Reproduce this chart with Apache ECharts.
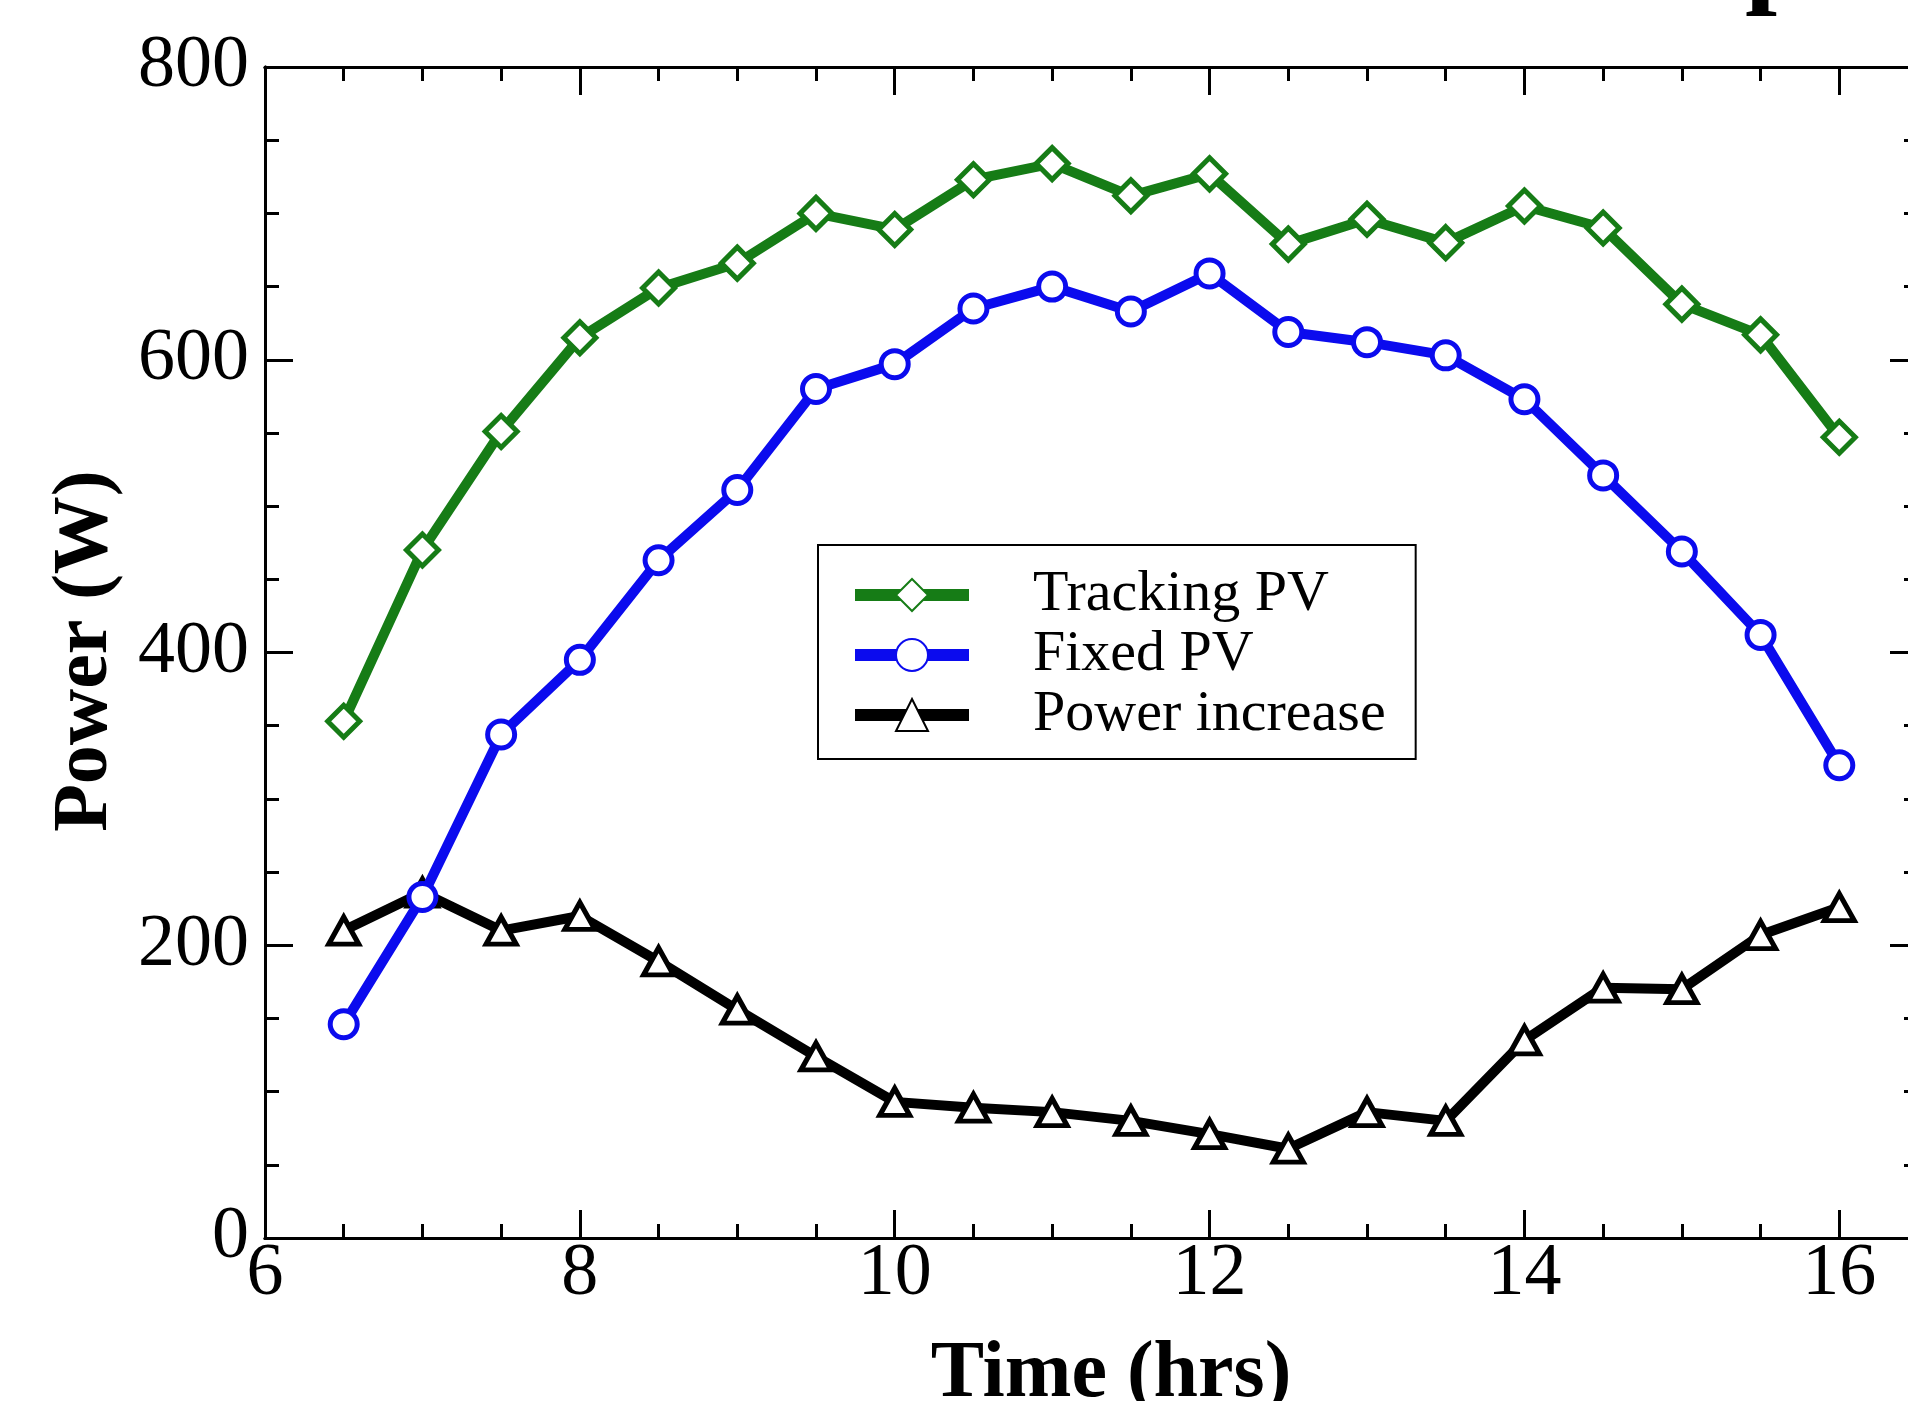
<!DOCTYPE html>
<html>
<head>
<meta charset="utf-8">
<title>Power</title>
<script src="https://cdn.jsdelivr.net/npm/echarts@6/dist/echarts.min.js"></script>
<style>
html, body { margin: 0; padding: 0; background: #fff; }
#main { width: 1908px; height: 1401px; }
</style>
</head>
<body>
<div id="main"></div>
<script>
// values
var hours = [6.5, 7, 7.5, 8, 8.5, 9, 9.5, 10, 10.5, 11, 11.5, 12, 12.5, 13, 13.5, 14, 14.5, 15, 15.5, 16];
var trackingPV = [353, 470, 551, 615, 649, 666, 700, 689, 723, 734, 712, 727, 679, 696, 680, 705, 690, 638, 617, 547];
var fixedPV = [146, 233, 344, 395, 463, 511, 580, 597, 635, 650, 633, 659, 619, 612, 603, 573, 521, 469, 412, 323];
var powerIncrease = [210, 236, 210, 220, 189, 156, 124, 93, 89, 86, 80, 71, 61, 86, 80, 135, 171, 170, 207, 226];
var seriesNames = ['Tracking PV', 'Fixed PV', 'Power increase'];
var xTickLabels = ['6', '8', '10', '12', '14', '16'];
var yTickLabels = ['0', '200', '400', '600', '800'];

var serif = 'Liberation Serif';
var green = '#167c16', blue = '#0b0bee', black = '#000';

function pairs(vals) {
    return hours.map(function (h, i) { return [h, vals[i]]; });
}

function xAx(pos, interval, len, labels) {
    return {
        type: 'value', position: pos, min: 6, max: 16.5, interval: interval,
        axisLine: { show: true, onZero: false, lineStyle: { color: '#000', width: 3 } },
        axisTick: { show: true, inside: true, length: len, lineStyle: { color: '#000', width: 3 } },
        axisLabel: {
            show: labels, margin: 0, fontFamily: serif, fontSize: 74, color: '#000',
            formatter: function (v) { return xTickLabels.indexOf(String(v)) >= 0 ? String(v) : ''; }
        },
        splitLine: { show: false }
    };
}
function yAx(pos, interval, len, labels) {
    return {
        type: 'value', position: pos, min: 0, max: 800, interval: interval,
        axisLine: { show: true, onZero: false, lineStyle: { color: '#000', width: 3 } },
        axisTick: { show: true, inside: true, length: len, lineStyle: { color: '#000', width: 3 } },
        axisLabel: {
            show: labels, margin: 16, fontFamily: serif, fontSize: 74, color: '#000',
            formatter: function (v) { return yTickLabels.indexOf(String(v)) >= 0 ? String(v) : ''; }
        },
        splitLine: { show: false }
    };
}

function line(name, vals, color, symbol, size, z) {
    return {
        name: name, type: 'line', data: pairs(vals), z: z,
        symbol: symbol, symbolSize: size, showAllSymbol: true,
        lineStyle: { color: color, width: 10 },
        itemStyle: { color: '#fff', borderColor: color, borderWidth: 5 },
        emphasis: { disabled: true }
    };
}

var myChart = echarts.init(document.getElementById('main'));
var option = {
    animation: false,
    backgroundColor: '#fff',
    grid: { left: 265, top: 67, right: -10, bottom: 163, containLabel: false, outerBoundsMode: 'none' },
    xAxis: [xAx('bottom', 2, 28, true), xAx('bottom', 0.5, 14, false), xAx('top', 2, 28, false), xAx('top', 0.5, 14, false)],
    yAxis: [yAx('left', 200, 28, true), yAx('left', 50, 14, false), yAx('right', 200, 28, false), yAx('right', 50, 14, false)],
    legend: {
        data: seriesNames, orient: 'vertical', left: 818, top: 545,
        padding: [21, 30, 15, 31], itemGap: 2, itemWidth: 114, itemHeight: 40,
        backgroundColor: '#fff', borderColor: '#000', borderWidth: 2,
        textStyle: { fontFamily: serif, fontSize: 58, color: '#000', padding: [0, 0, 0, 59] },
        lineStyle: { width: 12 },
        selectedMode: false
    },
    graphic: [
        { type: 'text', x: 86, y: 651, rotation: Math.PI / 2,
          style: { text: 'Power (W)', font: 'bold 78px "Liberation Serif"', fill: '#000', textAlign: 'center', textVerticalAlign: 'middle' } },
        { type: 'text', x: 1111, y: 1375,
          style: { text: 'Time (hrs)', font: 'bold 80px "Liberation Serif"', fill: '#000', textAlign: 'center', textVerticalAlign: 'middle' } },
        { type: 'text', x: 1745, y: -38,
          style: { text: 'p', font: 'bold 115px "Liberation Serif"', fill: '#000', textAlign: 'left', textVerticalAlign: 'middle' } }
    ],
    series: [
        line(seriesNames[0], trackingPV, green, 'diamond', 32, 4),
        line(seriesNames[1], fixedPV, blue, 'circle', 27, 3),
        line(seriesNames[2], powerIncrease, black, 'triangle', [30, 27], 2)
    ]
};
myChart.setOption(option, true);
</script>
</body>
</html>
